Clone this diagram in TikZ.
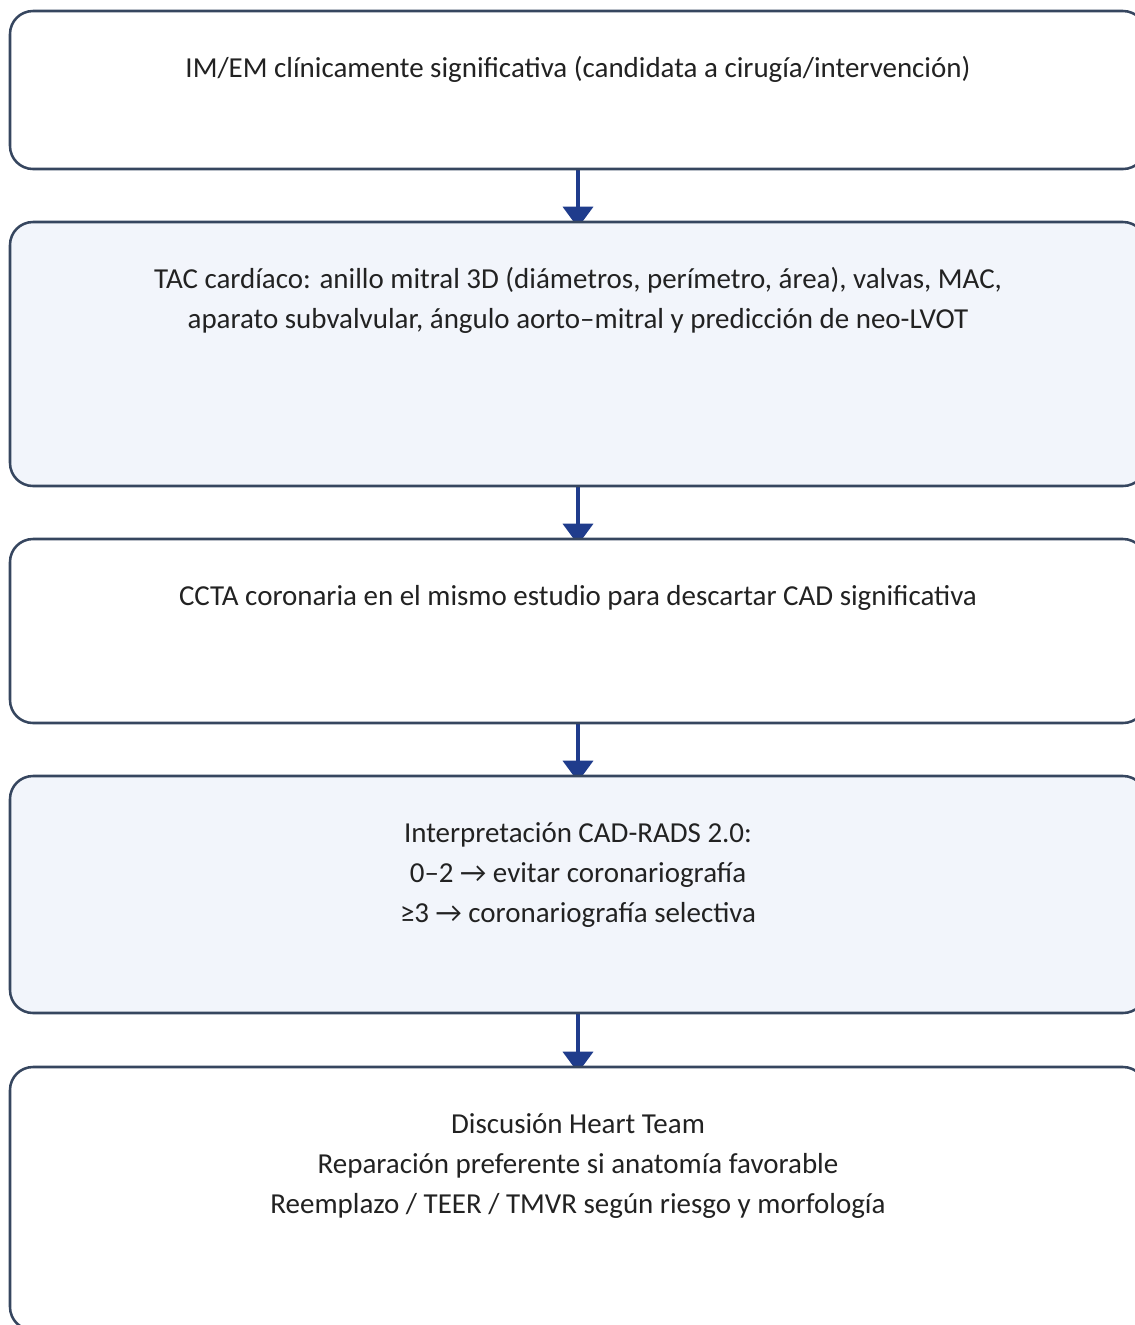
\documentclass[tikz,border=0pt]{standalone}
\usepackage{fontspec}
\setmainfont{Carlito}
\usetikzlibrary{arrows.meta}
\usetikzlibrary{backgrounds}

\definecolor{boxline}{HTML}{36465F}
\definecolor{boxfill}{HTML}{F2F5FB}
\definecolor{flowblue}{HTML}{1F3C8C}
\definecolor{textgray}{HTML}{222222}

\tikzset{
    stepbox/.style = {draw=boxline, line width=1.8pt, rounded corners=0.575cm,
                      minimum width=28.4cm, fill=white, inner sep=0pt},
    shadedbox/.style = {stepbox, fill=boxfill},
    boxtext/.style = {anchor=base, align=center, inner sep=0pt, text=textgray,
                      font=\fontsize{20.6}{28.45}\selectfont},
    flow/.style = {draw=flowblue, line width=2.5pt,
                   arrows = -{Triangle[width=0.75cm,length=0.525cm]}}
}

\begin{document}
\begin{tikzpicture}

            %\draw [help lines] (0,0) grid (28,-33);
            \useasboundingbox (0,0) rectangle (28.375,-33.125);

            \path   (14.45,-2.25)    node (b1) [stepbox, minimum height=3.95cm] {}
                    (14.45,-8.85)    node (b2) [shadedbox, minimum height=6.6cm] {}
                    (14.45,-15.775)  node (b3) [stepbox, minimum height=4.6cm] {}
                    (14.45,-22.3625) node (b4) [shadedbox, minimum height=5.925cm] {}
                    (14.45,-29.9625) node (b5) [stepbox, minimum height=6.575cm] {};

            % base of a node with several lines is its last line
            \path   ([yshift=-1.7cm]b1.north) node (t1) [boxtext] {IM/EM clínicamente significativa (candidata a cirugía/intervención)}
                    ([yshift=-2.7cm]b2.north) node (t2) [boxtext] {TAC cardíaco: anillo mitral 3D (diámetros, perímetro, área), valvas, MAC,\\aparato subvalvular, ángulo aorto–mitral y predicción de neo-LVOT}
                    ([yshift=-1.7cm]b3.north) node (t3) [boxtext] {CCTA coronaria en el mismo estudio para descartar CAD significativa}
                    ([yshift=-3.7cm]b4.north) node (t4) [boxtext] {Interpretación CAD-RADS 2.0:\\0–2 → evitar coronariografía\\≥3 → coronariografía selectiva}
                    ([yshift=-3.7cm]b5.north) node (t5) [boxtext] {Discusión Heart Team\\Reparación preferente si anatomía favorable\\Reemplazo / TEER / TMVR según riesgo y morfología};

            \begin{scope}[on background layer]
                \draw[flow] (b1.south) -- ([yshift=-0.175cm]b2.north);
                \draw[flow] (b2.south) -- ([yshift=-0.175cm]b3.north);
                \draw[flow] (b3.south) -- ([yshift=-0.175cm]b4.north);
                \draw[flow] (b4.south) -- ([yshift=-0.175cm]b5.north);
            \end{scope}

        \end{tikzpicture}
\end{document}
